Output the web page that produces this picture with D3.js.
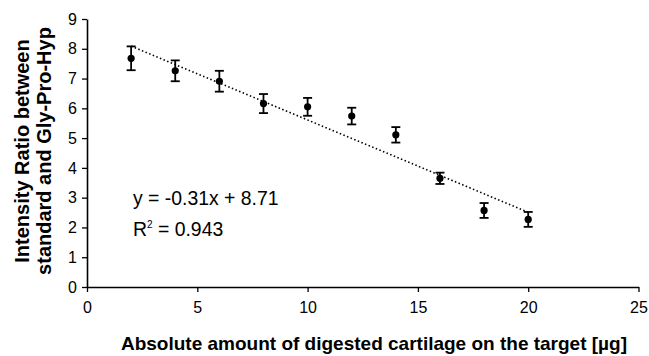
<!DOCTYPE html>
<html>
<head>
<meta charset="utf-8">
<script src="https://cdn.jsdelivr.net/npm/d3@7"></script>
<style>
  html, body { margin: 0; padding: 0; background: #fff; }
  svg { display: block; font-family: Arial, "Liberation Sans", sans-serif; }
</style>
</head>
<body>
<svg id="chart" width="649" height="356"></svg>
<script>
// Amount of digested cartilage on the target (µg)
const amounts = [2, 4, 6, 8, 10, 12, 14, 16, 18, 20];
// Mean intensity ratio (standard / Gly-Pro-Hyp)
const ratios = [7.68, 7.26, 6.91, 6.16, 6.05, 5.74, 5.11, 3.65, 2.57, 2.27];
// Error bar half-widths
const errors = [0.40, 0.35, 0.35, 0.32, 0.30, 0.28, 0.26, 0.19, 0.25, 0.25];
// Linear fit as stated in the annotation
const slope = -0.31;
const intercept = 8.71;
const rSquared = 0.943;
const xTicks = [0, 5, 10, 15, 20, 25];
const yTicks = [0, 1, 2, 3, 4, 5, 6, 7, 8, 9];

const svg = d3.select("#chart");
const x = d3.scaleLinear().domain([0, 25]).range([87, 638.5]);
const y = d3.scaleLinear().domain([0, 9]).range([287, 19]);

// Axes
const xAxis = svg.append("g")
  .attr("transform", `translate(0,${y(0)})`)
  .call(d3.axisBottom(x).tickValues(xTicks).tickSize(5).tickSizeOuter(0).tickPadding(10));
const yAxis = svg.append("g")
  .attr("transform", `translate(${x(0)},0)`)
  .call(d3.axisLeft(y).tickValues(yTicks).tickSize(5).tickSizeOuter(0).tickPadding(5));

[xAxis, yAxis].forEach(g => {
  g.select(".domain").attr("stroke", "#000").attr("stroke-width", 1.6);
  g.selectAll(".tick line").attr("stroke", "#000").attr("stroke-width", 1.3);
  g.selectAll(".tick text")
    .attr("fill", "#000")
    .style("font-size", "16px")
    .style("font-family", "Arial, 'Liberation Sans', sans-serif");
});

// Trend line
svg.append("line")
  .attr("x1", x(amounts[0]))
  .attr("y1", y(slope * amounts[0] + intercept))
  .attr("x2", x(amounts[amounts.length - 1]))
  .attr("y2", y(slope * amounts[amounts.length - 1] + intercept))
  .attr("stroke", "#000")
  .attr("stroke-width", 1.6)
  .attr("stroke-dasharray", "1.5,2.4");

// Error bars
const points = amounts.map((a, i) => ({ a, r: ratios[i], e: errors[i] }));
const bars = svg.append("g").attr("stroke", "#000").attr("stroke-width", 1.8);
points.forEach(p => {
  const cx = x(p.a);
  bars.append("line").attr("x1", cx).attr("x2", cx).attr("y1", y(p.r + p.e)).attr("y2", y(p.r - p.e));
  bars.append("line").attr("x1", cx - 4.5).attr("x2", cx + 4.5).attr("y1", y(p.r + p.e)).attr("y2", y(p.r + p.e));
  bars.append("line").attr("x1", cx - 4.5).attr("x2", cx + 4.5).attr("y1", y(p.r - p.e)).attr("y2", y(p.r - p.e));
});

// Markers
svg.append("g").selectAll("circle")
  .data(points)
  .join("circle")
  .attr("cx", d => x(d.a))
  .attr("cy", d => y(d.r))
  .attr("r", 3.6)
  .attr("fill", "#000");

// Fit annotation
const eq = svg.append("g").style("font-size", "19.4px").attr("fill", "#000");
eq.append("text").attr("x", 133).attr("y", 205)
  .text(`y = ${slope.toFixed(2)}x + ${intercept.toFixed(2)}`);
const r2 = eq.append("text").attr("x", 133).attr("y", 236);
r2.append("tspan").text("R");
r2.append("tspan").attr("dy", -8).style("font-size", "10px").text("2");
r2.append("tspan").attr("dy", 8).text(` = ${rSquared.toFixed(3)}`);

// Axis titles
svg.append("text")
  .attr("x", 374).attr("y", 350)
  .attr("text-anchor", "middle")
  .style("font-size", "19px").style("font-weight", "bold")
  .text("Absolute amount of digested cartilage on the target [µg]");

const yTitle = svg.append("text")
  .attr("transform", "translate(0,151) rotate(-90)")
  .attr("text-anchor", "middle")
  .style("font-size", "20px").style("font-weight", "bold");
yTitle.append("tspan").attr("x", 0).attr("y", 29).text("Intensity Ratio between");
yTitle.append("tspan").attr("x", 0).attr("y", 51).text("standard and Gly-Pro-Hyp");
</script>
</body>
</html>
